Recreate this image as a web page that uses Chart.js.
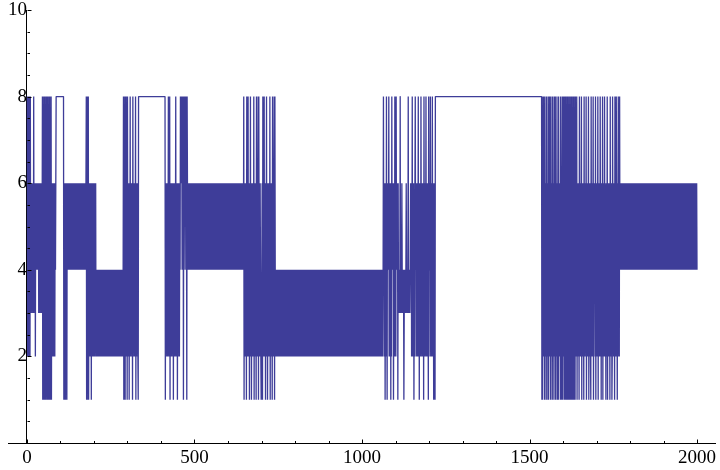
<!DOCTYPE html>
<html>
<head>
<meta charset="utf-8">
<script src="https://cdn.jsdelivr.net/npm/chart.js@4/dist/chart.umd.min.js"></script>
<style>
html,body{margin:0;padding:0;background:#fff;}
#wrap{width:720px;height:470px;position:relative;}
</style>
</head>
<body>
<div id="wrap"><canvas id="c" width="720" height="470"></canvas></div>
<script>
// Series values: one digit per point (points 1..2000); each row = 100 points, in chunks of 10
const seriesRows = [
  ["8283828328","3646364638","4636264646","4646364636","4636481816","1814181828","1816181816","1816262626","2626468888","8888888888"],
  ["8888888881","6416164616","4646464646","4646464646","4646464646","4646464646","4646464646","4646468182","8181626262","6162626262"],
  ["6264624242","4242424242","4242424242","4242424242","4242424242","4242424242","4242424242","4242424242","4242424814","2818462818"],
  ["2646162826","4626182646","2648162646","2188888888","8888888888","8888888888","8888888888","8888888888","8888888888","8888888888"],
  ["8888888888","8816264626","4826281646","2646261646","2648264616","2646264868","6848681868","6486861864","6464646464","6464646464"],
  ["6464646464","6464646464","6464646464","6464646464","6464646464","6464646464","6464646464","6464646464","6464646464","6464646464"],
  ["6464646464","6464646464","6464646464","6464646464","6464648164","6264184628","2461648261","4626428164","6241862648","1846264212"],
  ["4618462824","6164826146","2642816462","4186264818","4242424242","4242424242","4242424242","4242424242","4242424242","4242424242"],
  ["4242424242","4242424242","4242424242","4242424242","4242424242","4242424242","4242424242","4242424242","4242424242","4242424242"],
  ["4242424242","4242424242","4242424242","4242424242","4242424242","4242424242","4242424242","4242424242","4242424242","4242424242"],
  ["4242424242","4242424242","4242424242","4242424242","4242424242","4242424242","4248462614","6284164648","2624616284","6461462846"],
  ["2846461634","3438343464","3434134343","4643434834","3434646248","2646142684","6264624826","1646284624","6261846264","8246264184"],
  ["4628462648","2641462188","8888888888","8888888888","8888888888","8888888888","8888888888","8888888888","8888888888","8888888888"],
  ["8888888888","8888888888","8888888888","8888888888","8888888888","8888888888","8888888888","8888888888","8888888888","8888888888"],
  ["8888888888","8888888888","8888888888","8888888888","8888888888","8888888888","8888888888","8888888888","8888888888","8888888888"],
  ["8888888888","8888888888","8888888888","8888881816","2846182461","8264181628","4618246182","6418628146","2816418262","4186142816"],
  ["8261828181","6181218161","8121818121","8161818462","8164624184","6264816246","4182646281","4626481462","6218462648","1464628164"],
  ["2648164262","8461642816","4628264146","2816462641","8264612846","2641846286","4162846284","6464646464","6464646464","6464646464"],
  ["6464646464","6464646464","6464646464","6464646464","6464646464","6464646464","6464646464","6464646464","6464646464","6464646464"],
  ["6464646464","6464646464","6464646464","6464646464","6464646464","6464646464","6464646464","6464646464","6464646464","6464646464"]
];
const xTickValues = [0, 500, 1000, 1500, 2000];
const xMinorTickValues = [100, 200, 300, 400, 600, 700, 800, 900, 1100, 1200, 1300, 1400, 1600, 1700, 1800, 1900];
const yTickValues = [2, 4, 6, 8, 10];
const yMinorTickValues = [0.5, 1, 1.5, 2.5, 3, 3.5, 4.5, 5, 5.5, 6.5, 7, 7.5, 8.5, 9, 9.5];

const values = seriesRows.map(r => r.join("")).join("").split("").map(Number);
const points = values.map((v, i) => ({x: i + 1, y: v}));

const AXIS = '#000';
const LINE = 'rgb(62,61,153)';

const tickPlugin = {
  id: 'inwardTicks',
  afterDraw(chart) {
    const ctx = chart.ctx, xs = chart.scales.x, ys = chart.scales.y;
    const x0 = Math.round(xs.getPixelForValue(0)) + 0.5;
    const y0 = Math.round(ys.getPixelForValue(0)) + 0.5;
    ctx.save();
    ctx.strokeStyle = AXIS;
    ctx.lineWidth = 1;
    ctx.beginPath();
    const yt = (v, len) => { const p = Math.round(ys.getPixelForValue(v)) + 0.5; ctx.moveTo(x0, p); ctx.lineTo(x0 + len, p); };
    const xt = (v, len) => { const p = Math.round(xs.getPixelForValue(v)) + 0.5; ctx.moveTo(p, y0); ctx.lineTo(p, y0 - len); };
    yTickValues.forEach(v => yt(v, 4));
    yMinorTickValues.forEach(v => yt(v, 2.5));
    xTickValues.forEach(v => xt(v, 4));
    xMinorTickValues.forEach(v => xt(v, 2.5));
    ctx.stroke();
    ctx.restore();
  }
};

const noPad = s => { s.paddingTop = 0; s.paddingBottom = 0; s.paddingLeft = 0; s.paddingRight = 0; };

new Chart(document.getElementById('c'), {
  type: 'line',
  data: {
    datasets: [{
      data: points,
      borderColor: LINE,
      borderWidth: 1.3,
      pointRadius: 0,
      tension: 0.000001,
      fill: false,
      borderJoinStyle: 'bevel'
    }]
  },
  options: {
    responsive: false,
    animation: false,
    events: [],
    layout: {padding: {left: 8, right: 5, top: 10, bottom: 27}},
    plugins: {legend: {display: false}, tooltip: {enabled: false}},
    scales: {
      x: {
        type: 'linear',
        position: {y: 0},
        min: -56.7,
        max: 2053.7,
        afterBuildTicks: s => { s.ticks = xTickValues.map(v => ({value: v})); },
        afterFit: noPad,
        grid: {display: false, drawTicks: false},
        border: {display: true, color: AXIS, width: 1},
        ticks: {color: '#000', padding: 4, maxRotation: 0, autoSkip: false,
                callback: v => String(v),
                font: {family: 'Liberation Serif', size: 19}}
      },
      y: {
        type: 'linear',
        position: {x: 0},
        min: 0,
        max: 10,
        afterBuildTicks: s => { s.ticks = yTickValues.map(v => ({value: v})); },
        afterFit: noPad,
        grid: {display: false, drawTicks: false},
        border: {display: true, color: AXIS, width: 1},
        ticks: {color: '#000', padding: 6, autoSkip: false,
                callback: v => String(v),
                font: {family: 'Liberation Serif', size: 19}}
      }
    }
  },
  plugins: [tickPlugin]
});
</script>
</body>
</html>
